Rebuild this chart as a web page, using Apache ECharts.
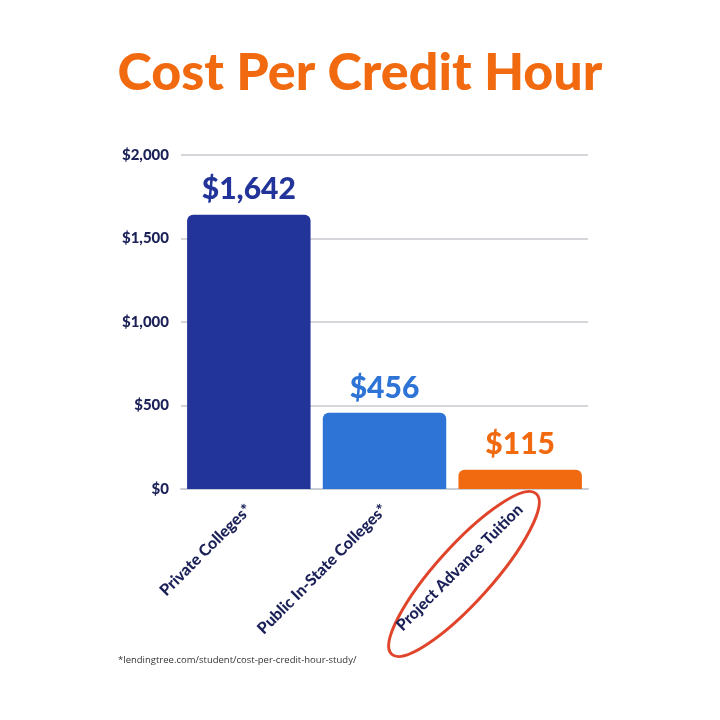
<!DOCTYPE html>
<html>
<head>
<meta charset="utf-8">
<script src="https://cdn.jsdelivr.net/npm/echarts@6/dist/echarts.min.js"></script>
<style>
  html, body { margin: 0; padding: 0; background: #fff; }
  #main { width: 720px; height: 720px; }
</style>
</head>
<body>
<div id="main"></div>
<script>
// data
var categories = ['Private Colleges*', 'Public In-State Colleges*', 'Project Advance Tuition'];
var costs = [1642, 456, 115];
var barColors = ['#223399', '#2d74d6', '#f26a10'];
var yTicks = [0, 500, 1000, 1500, 2000];

var myChart = echarts.init(document.getElementById('main'));

function money(v) {
    return '$' + v.toLocaleString('en-US');
}

var option = {
    backgroundColor: '#fff',
    title: {
        text: 'Cost Per Credit Hour',
        left: 'center',
        top: 42,
        textStyle: {
            color: '#f26a10',
            fontFamily: 'Lato',
            fontWeight: 900,
            fontSize: 52
        }
    },
    grid: {
        left: 181,
        right: 132,
        top: 155,
        bottom: 231
    },
    xAxis: {
        type: 'category',
        data: categories,
        axisTick: {show: false},
        axisLine: {lineStyle: {color: '#c9cdd6', width: 2}},
        axisLabel: {
            rotate: 45,
            margin: 18,
            color: '#1b2158',
            fontFamily: 'Lato',
            fontWeight: 900,
            fontSize: 16,
            padding: [0, 0, 0, 0]
        }
    },
    yAxis: {
        type: 'value',
        min: 0,
        max: yTicks[yTicks.length - 1],
        interval: 500,
        axisLine: {show: false},
        axisTick: {show: false},
        splitLine: {lineStyle: {color: '#d6d6da', width: 2}},
        axisLabel: {
            margin: 12,
            color: '#1b2158',
            fontFamily: 'Lato',
            fontWeight: 900,
            fontSize: 15,
            formatter: function (v) { return money(v); }
        }
    },
    series: [{
        type: 'bar',
        barCategoryGap: '9%',
        data: costs.map(function (v, i) {
            return {
                value: v,
                itemStyle: {color: barColors[i], borderRadius: [6, 6, 0, 0]},
                label: {color: barColors[i]}
            };
        }),
        label: {
            show: true,
            position: 'top',
            distance: 10,
            fontFamily: 'Lato',
            fontWeight: 900,
            fontSize: 30,
            formatter: function (p) { return money(p.value); }
        }
    }],
    graphic: [{
        type: 'ellipse',
        x: 464,
        y: 574,
        rotation: 48 * Math.PI / 180,
        shape: {cx: 0, cy: 0, rx: 108, ry: 28},
        style: {fill: 'none', stroke: '#e0452b', lineWidth: 3}
    }, {
        type: 'text',
        left: 118,
        top: 655,
        style: {
            text: '*lendingtree.com/student/cost-per-credit-hour-study/',
            fill: '#333',
            font: '9.5px "Open Sans"'
        }
    }]
};

myChart.setOption(option);
</script>
</body>
</html>
